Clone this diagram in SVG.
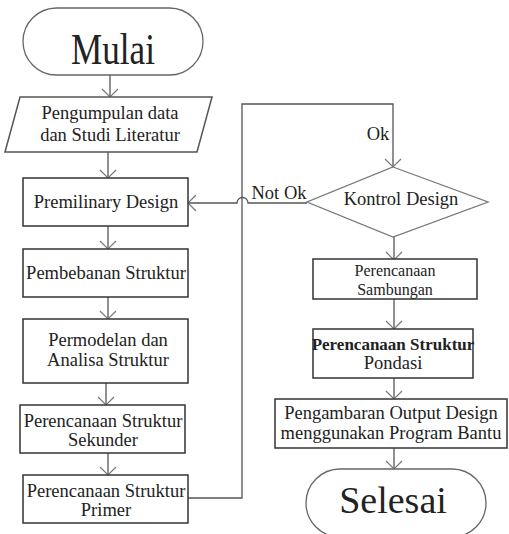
<svg xmlns="http://www.w3.org/2000/svg" width="509" height="534" viewBox="0 0 509 534">
<defs>
<style>
.box{fill:#fff;stroke:#333;stroke-width:1.5}
.term{fill:#fff;stroke:#666;stroke-width:1.3}
.dia{fill:#fff;stroke:#777;stroke-width:1.3}
text{font-family:"Liberation Serif",Tinos,"Times New Roman","DejaVu Serif",serif;fill:#222;text-anchor:middle}
.t{font-size:18.5px}
.b{font-weight:bold}
.c{fill:none;stroke:#555;stroke-width:1.3}
</style>
<marker id="arr" viewBox="0 0 10 18" refX="9" refY="9" markerWidth="10" markerHeight="18" markerUnits="userSpaceOnUse" orient="auto">
<path d="M1,1 L9,9 L1,17" fill="none" stroke="#777" stroke-width="1.2"/>
</marker>
</defs>
<rect width="509" height="534" fill="#fff"/>
<g id="connectors">
<path class="c" d="M110,75 V97" marker-end="url(#arr)"/>
<path class="c" d="M108,152 V178" marker-end="url(#arr)"/>
<path class="c" d="M108,226 V249" marker-end="url(#arr)"/>
<path class="c" d="M108,297 V319" marker-end="url(#arr)"/>
<path class="c" d="M106,383 V405" marker-end="url(#arr)"/>
<path class="c" d="M108,453 V475" marker-end="url(#arr)"/>
<path class="c" d="M188,498 H242 V104 H393 V167" marker-end="url(#arr)"/>
<path class="c" d="M307,203 H248 A5.5,5.5 0 0 0 237,203 H188" marker-end="url(#arr)"/>
<path class="c" d="M394,237 V260" marker-end="url(#arr)"/>
<path class="c" d="M394,298 V329" marker-end="url(#arr)"/>
<path class="c" d="M394,378 V399" marker-end="url(#arr)"/>
<path class="c" d="M394,448 V469" marker-end="url(#arr)"/>
<text class="t" x="378" y="140">Ok</text>
<text class="t" x="279" y="199">Not Ok</text>
</g>
<g id="mulai">
<rect class="term" x="23" y="8" width="180" height="67" rx="33.5"/>
<text x="113" y="64" font-size="44" textLength="84" lengthAdjust="spacingAndGlyphs">Mulai</text>
</g>
<g id="pengumpulan">
<polygon class="box" points="20,97 212,97 197,152 5,152" style="stroke:#555"/>
<text class="t" x="110" y="119">Pengumpulan data</text>
<text class="t" x="110" y="141">dan Studi Literatur</text>
</g>
<g id="premilinary">
<rect class="box" x="23" y="178" width="165" height="48"/>
<text class="t" x="106" y="208">Premilinary Design</text>
</g>
<g id="pembebanan">
<rect class="box" x="23" y="249" width="165" height="48"/>
<text class="t" x="106" y="279">Pembebanan Struktur</text>
</g>
<g id="permodelan">
<rect class="box" x="23" y="319" width="165" height="64"/>
<text class="t" x="108" y="346">Permodelan dan</text>
<text class="t" x="108" y="366">Analisa Struktur</text>
</g>
<g id="sekunder">
<rect class="box" x="20" y="405" width="165" height="48"/>
<text class="t" x="103" y="427">Perencanaan Struktur</text>
<text class="t" x="103" y="446">Sekunder</text>
</g>
<g id="primer">
<rect class="box" x="23" y="475" width="165" height="48"/>
<text class="t" x="106" y="497">Perencanaan Struktur</text>
<text class="t" x="106" y="516">Primer</text>
</g>
<g id="kontrol">
<polygon class="dia" points="393,167 488,202 393,237 307,202"/>
<text class="t" x="401" y="205">Kontrol Design</text>
</g>
<g id="sambungan">
<rect class="box" x="313" y="259" width="164" height="40"/>
<text x="395" y="276" font-size="16">Perencanaan</text>
<text x="395" y="294.5" font-size="16">Sambungan</text>
</g>
<g id="pondasi">
<rect class="box" x="313" y="329" width="160" height="49"/>
<text class="b" x="393" y="350" font-size="17">Perencanaan Struktur</text>
<text class="t" x="393" y="369">Pondasi</text>
</g>
<g id="pengambaran">
<rect class="box" x="275" y="399" width="232" height="49"/>
<text class="t" x="391" y="419">Pengambaran Output Design</text>
<text class="t" x="391" y="439">menggunakan Program Bantu</text>
</g>
<g id="selesai">
<rect class="term" x="306" y="469" width="180" height="68" rx="34"/>
<text x="393" y="513" font-size="38">Selesai</text>
</g>
</svg>
